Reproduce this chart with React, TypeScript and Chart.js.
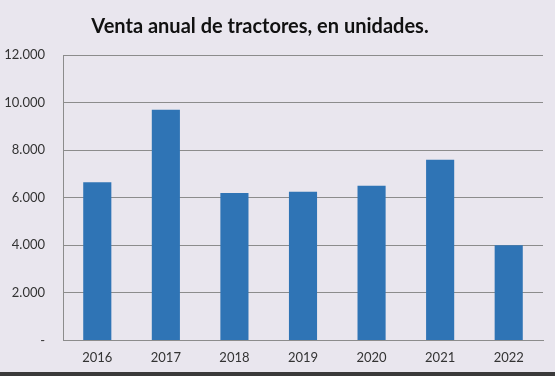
import React, { useEffect, useRef } from "react";
import { Chart, registerables } from "chart.js";

Chart.register(...registerables);

const years = ["2016", "2017", "2018", "2019", "2020", "2021", "2022"];
const sales = [6650, 9700, 6200, 6250, 6500, 7600, 4000];
const yTicks = [0, 2000, 4000, 6000, 8000, 10000, 12000];
const titleText = "Venta anual de tractores, en unidades.";

function fmt(v: number): string {
  if (v === 0) return "-";
  const s = String(Math.round(v));
  return s.replace(/\B(?=(\d{3})+(?!\d))/g, ".");
}

const titlePlugin = {
  id: "customTitle",
  afterDraw(chart: any) {
    const ctx = chart.ctx;
    ctx.save();
    ctx.font = "bold 20px Lato";
    ctx.fillStyle = "#111111";
    ctx.textAlign = "center";
    ctx.textBaseline = "middle";
    ctx.fillText(titleText, 260, 27);
    ctx.restore();
  },
};

export default function App() {
  const ref = useRef<HTMLCanvasElement | null>(null);
  useEffect(() => {
    document.body.style.margin = "0";
    if (!ref.current) return;
    const chart = new Chart(ref.current, {
      type: "bar",
      data: {
        labels: years,
        datasets: [
          {
            data: sales,
            backgroundColor: "#2f74b5",
            borderWidth: 0,
            barPercentage: 0.41,
            categoryPercentage: 1,
          },
        ],
      },
      options: {
        responsive: false,
        animation: false,
        layout: { padding: { top: 55, right: 12, bottom: 0, left: 0 } },
        plugins: { legend: { display: false }, tooltip: { enabled: false }, title: { display: false } },
        scales: {
          x: {
            grid: { display: false, drawTicks: false },
            border: { display: true, color: "#8c8c8c", width: 1 },
            ticks: { font: { family: "Lato", size: 13 }, color: "#333333", padding: 10 },
          },
          y: {
            min: 0,
            max: 12000,
            afterBuildTicks: (s: any) => {
              s.ticks = yTicks.map((v) => ({ value: v }));
            },
            afterFit: (s: any) => {
              s.width = 63;
            },
            grid: { color: "#8c8c8c", lineWidth: 1, drawTicks: false },
            border: { display: true, color: "#8c8c8c", width: 1 },
            ticks: {
              font: { family: "Lato", size: 13 },
              color: "#333333",
              padding: 18,
              callback: (v: any) => fmt(Number(v)),
            },
          },
        },
      },
      plugins: [titlePlugin],
    });
    return () => chart.destroy();
  }, []);
  return (
    <div style={{ width: 555, height: 376, background: "#e9e6ee", position: "relative", overflow: "hidden" }}>
      <canvas ref={ref} width={555} height={376} style={{ display: "block" }} />
      <div style={{ position: "absolute", left: 0, bottom: 0, width: 555, height: 4, background: "#3a3a3a" }} />
    </div>
  );
}
